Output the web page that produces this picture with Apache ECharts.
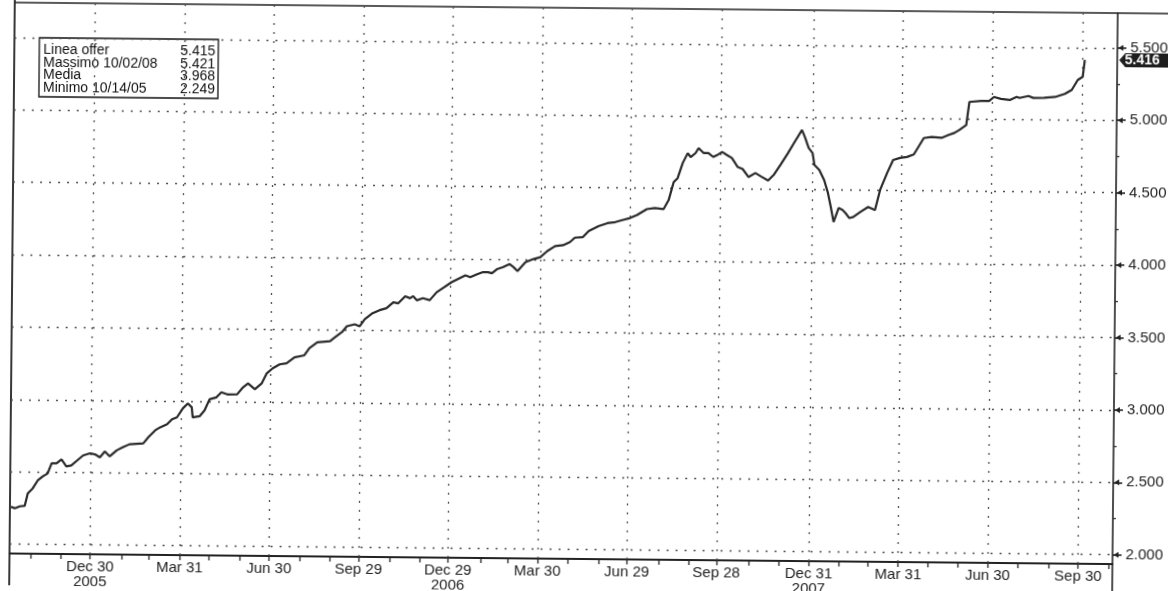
<!DOCTYPE html>
<html><head><meta charset="utf-8">
<script src="https://cdn.jsdelivr.net/npm/echarts@6/dist/echarts.min.js"></script>
<style>
html,body{margin:0;padding:0;background:#fff;overflow:hidden}
#wrap{width:1168px;height:591px;transform:rotate(0.55deg);transform-origin:584px 295px}
#chart{width:1168px;height:591px}
</style></head>
<body><div id="wrap"><div id="chart"></div></div>
<script>
// ---- data ----
const dates = [
'2005-10-10','2005-10-14','2005-10-19','2005-10-24','2005-10-27','2005-11-01','2005-11-06','2005-11-11','2005-11-16','2005-11-20',
'2005-11-25','2005-11-30','2005-12-05','2005-12-10','2005-12-16','2005-12-22','2005-12-29','2006-01-03','2006-01-08','2006-01-13',
'2006-01-18','2006-01-25','2006-01-31','2006-02-07','2006-02-21','2006-02-26','2006-03-05','2006-03-10','2006-03-17','2006-03-22',
'2006-03-27','2006-04-02','2006-04-07','2006-04-11','2006-04-12','2006-04-19','2006-04-24','2006-04-29','2006-05-06','2006-05-11',
'2006-05-17','2006-05-27','2006-06-02','2006-06-07','2006-06-14','2006-06-21','2006-06-26','2006-07-02','2006-07-09','2006-07-16',
'2006-07-24','2006-08-03','2006-08-08','2006-08-16','2006-08-29','2006-09-03','2006-09-10','2006-09-15','2006-09-23','2006-09-28',
'2006-10-03','2006-10-11','2006-10-18','2006-10-25','2006-11-01','2006-11-06','2006-11-13','2006-11-18','2006-11-21','2006-11-25',
'2006-12-01','2006-12-08','2006-12-15','2006-12-21','2006-12-30','2007-01-05','2007-01-13','2007-01-18','2007-01-25','2007-01-31',
'2007-02-05','2007-02-09','2007-02-14','2007-02-20','2007-02-27','2007-03-03','2007-03-07','2007-03-15','2007-03-23','2007-03-30',
'2007-04-06','2007-04-14','2007-04-22','2007-04-29','2007-05-04','2007-05-12','2007-05-18','2007-05-28','2007-06-06','2007-06-14',
'2007-06-21','2007-06-29','2007-07-06','2007-07-16','2007-07-24','2007-08-02','2007-08-07','2007-08-12','2007-08-16','2007-08-21',
'2007-08-26','2007-08-29','2007-09-03','2007-09-06','2007-09-11','2007-09-16','2007-09-21','2007-09-25','2007-09-30','2007-10-05',
'2007-10-10','2007-10-16','2007-10-21','2007-10-27','2007-11-03','2007-11-09','2007-11-16','2007-11-22','2007-11-29','2007-12-06',
'2007-12-12','2007-12-20','2007-12-23','2007-12-27','2007-12-31','2008-01-02','2008-01-07','2008-01-12','2008-01-16','2008-01-19',
'2008-01-22','2008-01-27','2008-01-31','2008-02-03','2008-02-07','2008-02-11','2008-02-18','2008-02-26','2008-03-04','2008-03-09',
'2008-03-16','2008-03-22','2008-03-29','2008-04-05','2008-04-12','2008-04-22','2008-04-30','2008-05-10','2008-05-17','2008-05-23',
'2008-05-28','2008-06-04','2008-06-07','2008-06-19','2008-06-27','2008-07-02','2008-07-09','2008-07-18','2008-07-25','2008-07-28',
'2008-08-06','2008-08-11','2008-08-22','2008-09-02','2008-09-12','2008-09-19','2008-09-25','2008-09-30','2008-10-02'
];
const values = [
2.258,2.249,2.262,2.266,2.352,2.387,2.442,2.470,2.491,2.561,
2.561,2.589,2.541,2.548,2.583,2.618,2.633,2.626,2.606,2.647,
2.613,2.655,2.676,2.698,2.705,2.747,2.796,2.817,2.838,2.873,
2.887,2.950,2.984,2.957,2.888,2.896,2.937,3.014,3.028,3.063,
3.049,3.050,3.099,3.126,3.086,3.128,3.197,3.232,3.260,3.267,
3.309,3.324,3.373,3.414,3.423,3.450,3.486,3.527,3.541,3.528,
3.577,3.619,3.640,3.654,3.696,3.689,3.738,3.725,3.739,3.711,
3.726,3.713,3.768,3.796,3.838,3.859,3.887,3.874,3.895,3.910,
3.910,3.903,3.931,3.945,3.967,3.946,3.919,3.981,4.003,4.017,
4.059,4.094,4.101,4.123,4.154,4.158,4.200,4.235,4.256,4.264,
4.278,4.293,4.314,4.356,4.363,4.357,4.419,4.544,4.572,4.676,
4.745,4.718,4.746,4.780,4.747,4.747,4.720,4.733,4.755,4.734,
4.714,4.652,4.639,4.584,4.612,4.588,4.561,4.603,4.676,4.752,
4.822,4.912,4.864,4.788,4.754,4.671,4.637,4.568,4.479,4.383,
4.279,4.376,4.363,4.342,4.307,4.315,4.350,4.385,4.365,4.503,
4.621,4.711,4.726,4.733,4.751,4.865,4.873,4.867,4.887,4.902,
4.923,4.958,5.117,5.125,5.125,5.153,5.140,5.133,5.155,5.148,
5.162,5.149,5.150,5.157,5.179,5.207,5.276,5.298,5.415
];
const xTickDates = ['2005-12-30','2006-03-31','2006-06-30','2006-09-29','2006-12-29','2007-03-30',
                    '2007-06-29','2007-09-28','2007-12-31','2008-03-31','2008-06-30','2008-09-30'];
const xTickLabels = ['Dec 30\n2005','Mar 31','Jun 30','Sep 29','Dec 29\n2006','Mar 30',
                     'Jun 29','Sep 28','Dec 31\n2007','Mar 31','Jun 30','Sep 30'];
const yTicks = [2, 2.5, 3, 3.5, 4, 4.5, 5, 5.5];
const yMinorTicks = [2.25, 2.75, 3.25, 3.75, 4.25, 4.75, 5.25];
const legendNames = ['Linea offer', 'Massimo 10/02/08', 'Media', 'Minimo 10/14/05'];
const legendValues = ['5.415', '5.421', '3.968', '2.249'];
const lastValue = 5.416;
const xRange = ['2005-10-09', '2008-11-04'];
const yRange = [1.936, 5.74];

// ---- build ----
const DAY = 86400000;
const ts = d => Date.parse(d);
const seriesData = dates.map((d, i) => [ts(d), values[i]]);
const labelTs = xTickDates.map(ts);
const labelMap = {};
labelTs.forEach((t, i) => { labelMap[t] = xTickLabels[i]; });
const monthTicks = [];
for (let y = 2005, m = 9; y < 2009; ) {
  const t = Date.UTC(y, m + 1, 0);
  if (t > ts(xRange[1])) break;
  if (t >= ts(xRange[0]) && !labelTs.some(l => Math.abs(l - t) < 5 * DAY)) monthTicks.push(t);
  m++; if (m > 11) { m = 0; y++; }
}
const xTickValues = monthTicks.concat(labelTs).sort((a, b) => a - b);

const FONT = "'Liberation Sans', Arial, sans-serif";
const gridStyle = { type: [2, 7], color: '#505050', width: 1.3 };
const markData = []
  .concat(yTicks.map(v => ({ yAxis: v })))
  .concat(labelTs.map(t => ({ xAxis: t })));

const chart = echarts.init(document.getElementById('chart'), null, { renderer: 'canvas' });

const legendChildren = [{
  type: 'rect', shape: { x: 37, y: 43, width: 179, height: 59 },
  style: { fill: '#fff', stroke: '#111', lineWidth: 1.3 }
}];
legendNames.forEach((n, i) => {
  const y = 55 + i * 12.8;
  legendChildren.push({ type: 'text', x: 41, y: y,
    style: { text: n, font: '14px ' + FONT, fill: '#111', textAlign: 'left', textVerticalAlign: 'middle' } });
  legendChildren.push({ type: 'text', x: 213, y: y,
    style: { text: legendValues[i], font: '14px ' + FONT, fill: '#111', textAlign: 'right', textVerticalAlign: 'middle' } });
});

const frame = [
  { type: 'line', shape: { x1: 12, y1: 8, x2: 1168, y2: 8 }, style: { stroke: '#222', lineWidth: 1.5 }, silent: true },
  { type: 'line', shape: { x1: 12, y1: 0, x2: 12, y2: 591 }, style: { stroke: '#222', lineWidth: 1.8 }, silent: true },
  { type: 'line', shape: { x1: 1115, y1: 559, x2: 1115, y2: 591 }, style: { stroke: '#222', lineWidth: 1.6 }, silent: true },
  { type: 'group', children: legendChildren, z: 10 }
];

chart.setOption({
  animation: false,
  backgroundColor: '#fff',
  grid: { left: 12, right: 53, top: 8, bottom: 32, containLabel: false, outerBoundsMode: 'none' },
  xAxis: {
    type: 'value', min: ts(xRange[0]), max: ts(xRange[1]),
    axisLine: { show: true, lineStyle: { color: '#222', width: 2 } },
    axisTick: { show: true, customValues: xTickValues, length: 5, lineStyle: { color: '#222', width: 1.3 } },
    axisLabel: {
      show: true, customValues: labelTs, margin: 5,
      formatter: v => labelMap[v] || '',
      fontFamily: FONT, fontSize: 15, color: '#222', lineHeight: 15
    },
    splitLine: { show: false }
  },
  yAxis: [{
    type: 'value', position: 'right', min: yRange[0], max: yRange[1],
    axisLine: { show: true, lineStyle: { color: '#222', width: 1.6 } },
    axisTick: { show: true, customValues: yTicks, length: 9, lineStyle: { color: '#222', width: 1.6 } },
    axisLabel: {
      show: true, customValues: yTicks, margin: 13,
      formatter: v => v.toFixed(3),
      fontFamily: FONT, fontSize: 15, color: '#222'
    },
    splitLine: { show: false }
  }, {
    type: 'value', position: 'right', min: yRange[0], max: yRange[1],
    axisLine: { show: false },
    axisTick: { show: true, customValues: yMinorTicks, length: 3, lineStyle: { color: '#333', width: 1.3 } },
    axisLabel: { show: false },
    splitLine: { show: false }
  }],
  series: [{
    type: 'line', data: seriesData, showSymbol: false, symbol: 'none',
    lineStyle: { color: '#2b2b2b', width: 2.2 },
    z: 5,
    markLine: {
      silent: true, symbol: ['none', 'none'], animation: false,
      label: { show: false },
      lineStyle: gridStyle,
      emphasis: { disabled: true },
      data: markData
    }
  }],
  graphic: frame
});

// tick arrows and last-value badge placed through the y scale
const ax = 1115;
const extra = yTicks.map(v => {
  const y = chart.convertToPixel({ yAxisIndex: 0 }, v);
  return { type: 'polygon', shape: { points: [[ax + 1, y], [ax + 6, y - 3], [ax + 6, y + 3]] },
           style: { fill: '#222' }, silent: true };
});
const by = chart.convertToPixel({ yAxisIndex: 0 }, lastValue);
extra.push({
  type: 'polygon', z: 20,
  shape: { points: [[ax + 2, by], [ax + 8, by - 7], [1166, by - 7], [1166, by + 7], [ax + 8, by + 7]] },
  style: { fill: '#1e1e1e' }, silent: true
});
extra.push({
  type: 'text', z: 21, x: 1140, y: by,
  style: { text: lastValue.toFixed(3), font: 'bold 14px ' + FONT, fill: '#fff',
           textAlign: 'center', textVerticalAlign: 'middle' }, silent: true
});
chart.setOption({ graphic: frame.concat(extra) }, { replaceMerge: ['graphic'] });
</script>
</body></html>
